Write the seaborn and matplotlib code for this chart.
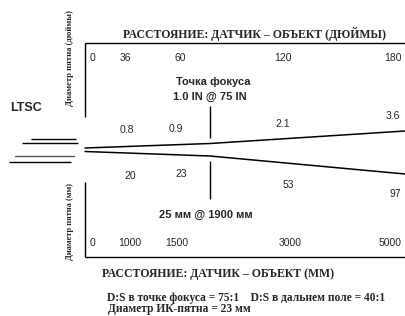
import matplotlib
matplotlib.use("Agg")
import matplotlib.pyplot as plt
import seaborn as sns
import pandas as pd

# ---- data ----
inch_ticks = ["0", "36", "60", "120", "180"]
mm_ticks = ["0", "1000", "1500", "3000", "5000"]
spot_in = ["0.8", "0.9", "2.1", "3.6"]
spot_mm = ["20", "23", "53", "97"]
title_top = "РАССТОЯНИЕ: ДАТЧИК – ОБЪЕКТ (ДЮЙМЫ)"
title_bottom = "РАССТОЯНИЕ: ДАТЧИК – ОБЪЕКТ (ММ)"
ylabel_top = "Диаметр пятна (дюймы)"
ylabel_bottom = "Диаметр пятна (мм)"
focus_title = "Точка фокуса"
focus_in = "1.0 IN @ 75 IN"
focus_mm = "25 мм @ 1900 мм"
note1 = "D:S в точке фокуса = 75:1    D:S в дальнем поле = 40:1"
note2 = "Диаметр ИК-пятна = 23 мм"
sensor = "LTSC"

# beam outline (schematic, pixel layout)
beam_x = [85, 210, 405]
beam_upper = [148, 143.5, 131]
beam_lower = [151.5, 156, 174]

sns.set_theme(style="white")
plt.rcParams['font.family'] = ['Liberation Sans', 'DejaVu Sans']

fig = plt.figure(figsize=(4.05, 3.16), dpi=100)
ax = fig.add_axes([0, 0, 1, 1])
ax.set_xlim(0, 405)
ax.set_ylim(316, 0)
ax.axis('off')

df = pd.DataFrame({
    "x": beam_x * 2,
    "y": beam_upper + beam_lower,
    "edge": ["upper"] * 3 + ["lower"] * 3,
})
sns.lineplot(data=df, x="x", y="y", units="edge", estimator=None,
             color="black", lw=1.1, ax=ax, sort=False)

k = dict(color="black", lw=1.0, solid_capstyle="butt")
# frame lines
ax.plot([85, 405], [43, 43], **k)
ax.plot([85, 85], [43, 117], **k)
ax.plot([85, 85], [182, 257], **k)
ax.plot([85, 405], [257, 257], **k)
# focus markers
ax.plot([210, 210], [106, 138], **k)
ax.plot([210, 210], [161, 199], **k)
# sensor lines
ax.plot([31, 76], [139, 139], **k)
ax.plot([22, 78], [142.7, 142.7], **k)
ax.plot([15, 74], [155.7, 155.7], color="#555555", lw=1.0)
ax.plot([9, 71], [161.7, 161.7], **k)

sans = dict(family=['Liberation Sans', 'DejaVu Sans'])
serif = dict(family=['Liberation Serif', 'DejaVu Serif'])

top_x = [92, 125, 180, 283, 393]
bot_x = [92, 130, 177, 290, 390]
for t, x in zip(inch_ticks, top_x):
    ax.text(x, 58, t, ha="center", va="center", fontsize=7.5, **sans)
for t, x in zip(mm_ticks, bot_x):
    ax.text(x, 243, t, ha="center", va="center", fontsize=7.5, **sans)

for t, x, y in zip(spot_in, [127, 176, 283, 393], [130, 129, 124, 116]):
    ax.text(x, y, t, ha="center", va="center", fontsize=7.5, **sans)
for t, x, y in zip(spot_mm, [130, 181, 288, 395], [176, 174, 185, 194]):
    ax.text(x, y, t, ha="center", va="center", fontsize=7.5, **sans)

ax.text(213, 82, focus_title, ha="center", va="center", fontsize=8, fontweight="bold", **sans)
ax.text(210, 97, focus_in, ha="center", va="center", fontsize=8, fontweight="bold", **sans)
ax.text(206, 215, focus_mm, ha="center", va="center", fontsize=8, fontweight="bold", **sans)
ax.text(26, 108, sensor, ha="center", va="center", fontsize=9, fontweight="bold", **sans)

ax.text(254.5, 34, title_top, ha="center", va="center", fontsize=8.5, fontweight="bold", **serif)
ax.text(218.5, 274.5, title_bottom, ha="center", va="center", fontsize=8.5, fontweight="bold", **serif)
ax.text(107, 298, note1, ha="left", va="center", fontsize=8.3, fontweight="bold", **serif)
ax.text(108, 309, note2, ha="left", va="center", fontsize=8.3, fontweight="bold", **serif)

ax.text(70, 58, ylabel_top, ha="center", va="center", rotation=90, fontsize=6.2, fontweight="bold", **serif)
ax.text(70, 221, ylabel_bottom, ha="center", va="center", rotation=90, fontsize=6.0, fontweight="bold", **serif)

fig.savefig("out.png", dpi=100)
